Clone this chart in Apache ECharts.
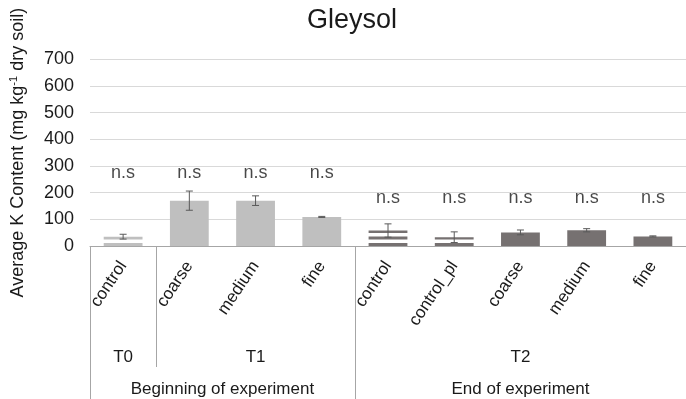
<!DOCTYPE html>
<html><head><meta charset="utf-8">
<script src="https://cdn.jsdelivr.net/npm/echarts@6/dist/echarts.min.js"></script>
<style>html,body{margin:0;padding:0;background:#fff}#c{width:686px;height:399px}</style>
</head><body><div id="c"></div>
<script>
// ---- data ----
var categories = ['control','coarse','medium','fine','control','control_pl','coarse','medium','fine'];
var values     = [35, 170, 170, 109, 58, 33, 51, 59, 36];
var errors     = [9, 36, 18, 2, 25, 20, 9, 6, 2];
var nsLabelY   = [275, 275, 275, 275, 181, 181, 181, 181, 181];
var nsText     = ['n.s','n.s','n.s','n.s','n.s','n.s','n.s','n.s','n.s'];
var timeGroupNames = ['T0','T1','T2'];
var timeGroupSizes = [1, 3, 5];
var periodNames = ['Beginning of experiment','End of experiment'];
var periodSizes = [4, 5];
var barStyleKey = ['lightStripe','light','light','light','darkStripe','darkStripe','dark','dark','dark'];
var yTicks = [0,100,200,300,400,500,600,700];

// ---- styles ----
var LIGHT = '#bfbfbf', DARK = '#767171';
var styles = {
  light:{color:LIGHT, stripe:false}, dark:{color:DARK, stripe:false},
  lightStripe:{color:LIGHT, stripe:true}, darkStripe:{color:DARK, stripe:true}
};
var BAR_RATIO = 0.586, STRIPE = 3, STRIPE_GAP = 3.5;
var FONT = 'Liberation Sans, Arial, sans-serif';
var TXT = '#1a1a1a';

function spans(sizes){ var out=[], s=0; sizes.forEach(function(n){ out.push({start:s, end:s+n, center:s+n/2}); s+=n; }); return out; }
var tSpans = spans(timeGroupSizes), pSpans = spans(periodSizes);
var tBounds = [0].concat(tSpans.map(function(s){return s.end;}));
var pBounds = [0].concat(pSpans.map(function(s){return s.end;}));
function nameAt(list, names, v){ for (var i=0;i<list.length;i++){ if (Math.abs(list[i].center - v) < 1e-6) return names[i]; } return ''; }

var chart = echarts.init(document.getElementById('c'));

chart.setOption({
  animation:false,
  title:{text:'Gleysol', left:347, top:2, textAlign:'center',
    textStyle:{fontFamily:FONT, fontSize:27, fontWeight:'normal', color:TXT}},
  grid:{left:86.6, right:-5.4, top:59.3, bottom:153, containLabel:false},
  xAxis:[
    {type:'category', data:categories, gridIndex:0, position:'bottom',
      axisLine:{show:true, lineStyle:{color:'#a6a6a6', width:1}},
      axisTick:{show:false},
      axisLabel:{interval:0, rotate:56, margin:17, fontFamily:FONT, fontSize:17, color:TXT}},
    {type:'value', min:0, max:9, gridIndex:0, position:'bottom',
      axisLine:{show:false}, splitLine:{show:false},
      axisTick:{show:true, customValues:tBounds, length:121, lineStyle:{color:'#a6a6a6', width:1}},
      axisLabel:{show:true, customValues:tSpans.map(function(s){return s.center;}), margin:103,
        fontFamily:FONT, fontSize:17, color:TXT,
        formatter:function(v){ return nameAt(tSpans, timeGroupNames, v); }}},
    {type:'value', min:0, max:9, gridIndex:0, position:'bottom',
      axisLine:{show:false}, splitLine:{show:false},
      axisTick:{show:true, customValues:pBounds, length:160, lineStyle:{color:'#a6a6a6', width:1}},
      axisLabel:{show:true, customValues:pSpans.map(function(s){return s.center;}), margin:135,
        fontFamily:FONT, fontSize:17, color:TXT,
        formatter:function(v){ return nameAt(pSpans, periodNames, v); }}}
  ],
  yAxis:{type:'value', min:yTicks[0], max:yTicks[yTicks.length-1], interval:100,
    axisLine:{show:false}, axisTick:{show:false},
    splitLine:{lineStyle:{color:'#d9d9d9', width:1}},
    axisLabel:{margin:16, fontFamily:FONT, fontSize:18, color:TXT},
    name:'Average K Content (mg kg{sup|-1} dry soil)', nameLocation:'middle', nameGap:62,
    nameTextStyle:{fontFamily:FONT, fontSize:18, color:TXT,
      rich:{sup:{fontFamily:FONT, fontSize:11, color:TXT, verticalAlign:'top', padding:[0,0,9,0]}}}},
  series:[
    {type:'custom', xAxisIndex:0, z:2,
      data:values.map(function(v,i){ return [i, v]; }),
      renderItem:function(params, api){
        var i = api.value(0);
        var top = api.coord([i, api.value(1)]);
        var base = api.coord([i, 0]);
        var w = api.size([1, 0])[0] * BAR_RATIO;
        var x = top[0] - w/2;
        var st = styles[barStyleKey[params.dataIndex]];
        if (!st.stripe) {
          return {type:'rect', shape:{x:x, y:top[1], width:w, height:base[1]-top[1]}, style:{fill:st.color}};
        }
        var kids = [];
        for (var y = base[1]; y > top[1] + 0.01; y -= (STRIPE + STRIPE_GAP)) {
          var y0 = Math.max(top[1], y - STRIPE);
          kids.push({type:'rect', shape:{x:x, y:y0, width:w, height:y-y0}, style:{fill:st.color}});
        }
        return {type:'group', children:kids};
      }},
    {type:'custom', xAxisIndex:0, z:5,
      data:values.map(function(v,i){ return [i, v-errors[i], v+errors[i]]; }),
      renderItem:function(params, api){
        var lo = api.coord([api.value(0), api.value(1)]);
        var hi = api.coord([api.value(0), api.value(2)]);
        var w = 3.5, st = {stroke:'#595959', lineWidth:1};
        return {type:'group', children:[
          {type:'line', shape:{x1:hi[0], y1:hi[1], x2:lo[0], y2:lo[1]}, style:st},
          {type:'line', shape:{x1:hi[0]-w, y1:hi[1], x2:hi[0]+w, y2:hi[1]}, style:st},
          {type:'line', shape:{x1:lo[0]-w, y1:lo[1], x2:lo[0]+w, y2:lo[1]}, style:st}
        ]};
      }},
    {type:'scatter', xAxisIndex:0, symbolSize:0, silent:true,
      data:nsLabelY.map(function(y,i){ return {value:[i,y], label:{formatter:nsText[i]}}; }),
      label:{show:true, position:'inside', fontFamily:FONT, fontSize:18, color:TXT}}
  ]
});
</script></body></html>
